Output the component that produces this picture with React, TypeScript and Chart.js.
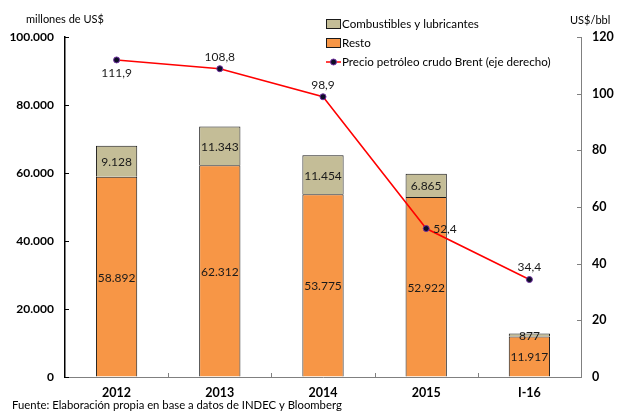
import React, { useEffect, useRef } from "react";
import { Chart, registerables } from "chart.js";

Chart.register(...registerables);

const categories = ["2012", "2013", "2014", "2015", "I-16"];
const resto = [58892, 62312, 53775, 52922, 11917];
const combustibles = [9128, 11343, 11454, 6865, 877];
const brent = [111.9, 108.8, 98.9, 52.4, 34.4];
const brentLabelPos = ["below", "above", "above", "right", "above"];
const leftTicks = [0, 20000, 40000, 60000, 80000, 100000];
const rightTicks = [0, 20, 40, 60, 80, 100, 120];

const seriesNames = {
  comb: "Combustibles y lubricantes",
  resto: "Resto",
  brent: "Precio petróleo crudo Brent (eje derecho)",
};
const leftTitle = "millones de US$";
const rightTitle = "US$/bbl";
const footer = "Fuente: Elaboración propia en base a datos de INDEC y Bloomberg";

const ORANGE = "#F79646";
const TAN = "#C4BD97";
const RED = "#FF0000";
const FONT = "Lato, 'Open Sans', sans-serif";

function fmtThousands(v: number): string {
  const s = Math.round(v).toString();
  return s.replace(/\B(?=(\d{3})+(?!\d))/g, ".");
}
function fmtDecimal(v: number): string {
  return v.toFixed(1).replace(".", ",");
}

const overlayPlugin = {
  id: "overlay",
  afterDatasetsDraw(chart: any) {
    const ctx = chart.ctx;
    const area = chart.chartArea;
    ctx.save();
    const ys = chart.scales.y;
    const y1 = chart.scales.y1;
    const xs = chart.scales.x;
    ctx.lineWidth = 1;
    ctx.strokeStyle = "#000";
    ys.ticks.forEach((t: any) => {
      const py = Math.round(ys.getPixelForValue(t.value)) + 0.5;
      ctx.beginPath();
      ctx.moveTo(area.left, py);
      ctx.lineTo(area.left + 4, py);
      ctx.stroke();
    });
    ctx.strokeStyle = "#808080";
    y1.ticks.forEach((t: any) => {
      const py = Math.round(y1.getPixelForValue(t.value)) + 0.5;
      ctx.beginPath();
      ctx.moveTo(area.right - 4, py);
      ctx.lineTo(area.right, py);
      ctx.stroke();
    });
    const n = categories.length;
    for (let i = 1; i < n; i++) {
      const px = Math.round((xs.getPixelForTick(i - 1) + xs.getPixelForTick(i)) / 2) + 0.5;
      ctx.beginPath();
      ctx.moveTo(px, area.bottom);
      ctx.lineTo(px, area.bottom - 4);
      ctx.stroke();
    }

    // bar labels
    ctx.fillStyle = "#1a1a1a";
    ctx.font = `12px ${FONT}`;
    ctx.textAlign = "center";
    ctx.textBaseline = "middle";
    [0, 1].forEach((di) => {
      const meta = chart.getDatasetMeta(di);
      const data = chart.data.datasets[di].data;
      meta.data.forEach((el: any, i: number) => {
        const cy = (el.y + el.base) / 2;
        ctx.fillText(fmtThousands(data[i]), el.x, cy + 1);
      });
    });
    // line labels
    const lmeta = chart.getDatasetMeta(2);
    lmeta.data.forEach((el: any, i: number) => {
      const pos = brentLabelPos[i];
      const txt = fmtDecimal(brent[i]);
      if (pos === "below") {
        ctx.textAlign = "center";
        ctx.fillText(txt, el.x, el.y + 13);
      } else if (pos === "right") {
        ctx.textAlign = "left";
        ctx.fillText(txt, el.x + 7, el.y + 1);
      } else {
        ctx.textAlign = "center";
        ctx.fillText(txt, el.x, el.y - 12);
      }
    });

    // axis titles
    ctx.font = `11px ${FONT}`;
    ctx.textAlign = "left";
    ctx.fillStyle = "#000";
    ctx.fillText(leftTitle, 26, 19);
    ctx.fillText(rightTitle, 570, 20);
    // footer
    ctx.font = `11.3px ${FONT}`;
    ctx.fillText(footer, 12, 405);

    // legend
    const lx = 326;
    const rows = [24, 43, 62];
    ctx.font = `11.6px ${FONT}`;
    ctx.textBaseline = "middle";
    ctx.fillStyle = TAN;
    ctx.fillRect(lx + 0.5, rows[0] - 4.5, 14, 9);
    ctx.strokeStyle = "#1a1a1a";
    ctx.strokeRect(lx + 0.5, rows[0] - 4.5, 14, 9);
    ctx.fillStyle = "#000";
    ctx.fillText(seriesNames.comb, lx + 16, rows[0]);
    ctx.fillStyle = ORANGE;
    ctx.fillRect(lx + 0.5, rows[1] - 4.5, 14, 9);
    ctx.strokeRect(lx + 0.5, rows[1] - 4.5, 14, 9);
    ctx.fillStyle = "#000";
    ctx.fillText(seriesNames.resto, lx + 16, rows[1]);
    ctx.strokeStyle = RED;
    ctx.lineWidth = 1.5;
    ctx.beginPath();
    ctx.moveTo(lx, rows[2]);
    ctx.lineTo(lx + 15, rows[2]);
    ctx.stroke();
    ctx.fillStyle = "#0d0d26";
    ctx.strokeStyle = "#7030A0";
    ctx.lineWidth = 1;
    ctx.beginPath();
    ctx.arc(lx + 7.5, rows[2], 3, 0, Math.PI * 2);
    ctx.fill();
    ctx.stroke();
    ctx.fillStyle = "#000";
    ctx.fillText(seriesNames.brent, lx + 16, rows[2]);

    ctx.restore();
  },
};

export default function App() {
  const ref = useRef<HTMLCanvasElement | null>(null);
  useEffect(() => {
    document.body.style.margin = "0";
    if (!ref.current) return;
    const chart = new Chart(ref.current, {
      type: "bar",
      data: {
        labels: categories,
        datasets: [
          {
            type: "bar",
            label: seriesNames.resto,
            data: resto,
            backgroundColor: ORANGE,
            borderColor: "#1a1a1a",
            borderWidth: 1,
            yAxisID: "y",
            stack: "s",
            order: 1,
            categoryPercentage: 1,
            barPercentage: 0.4,
          },
          {
            type: "bar",
            label: seriesNames.comb,
            data: combustibles,
            backgroundColor: TAN,
            borderColor: "#1a1a1a",
            borderWidth: 1,
            yAxisID: "y",
            stack: "s",
            order: 1,
            categoryPercentage: 1,
            barPercentage: 0.4,
          },
          {
            type: "line",
            label: seriesNames.brent,
            data: brent,
            borderColor: RED,
            borderWidth: 1.5,
            pointBackgroundColor: "#0d0d26",
            pointBorderColor: "#7030A0",
            pointBorderWidth: 1,
            pointRadius: 3,
            yAxisID: "y1",
            order: 0,
            tension: 0,
          },
        ] as any,
      },
      options: {
        responsive: false,
        animation: false,
        layout: { padding: { top: 37, left: 0, right: 0, bottom: 0 } },
        plugins: {
          legend: { display: false },
          tooltip: { enabled: false },
        },
        scales: {
          x: {
            stacked: true,
            grid: { display: false, drawTicks: false },
            border: { display: true, color: "#808080", width: 1 },
            ticks: {
              padding: 8,
              color: "#000",
              font: { family: FONT, size: 12.5, weight: "bold" },
            },
            afterFit: (s: any) => {
              s.height = 35;
            },
          },
          y: {
            stacked: true,
            position: "left",
            min: 0,
            max: 100000,
            afterBuildTicks: (s: any) => {
              s.ticks = leftTicks.map((v) => ({ value: v }));
            },
            grid: { drawOnChartArea: false, drawTicks: false },
            border: { display: true, color: "#000", width: 1.5 },
            ticks: {
              padding: 11,
              color: "#000",
              font: { family: FONT, size: 12, weight: "bold" },
              callback: (v: any) => fmtThousands(Number(v)),
            },
            afterFit: (s: any) => {
              s.width = 65;
            },
          },
          y1: {
            position: "right",
            min: 0,
            max: 120,
            afterBuildTicks: (s: any) => {
              s.ticks = rightTicks.map((v) => ({ value: v }));
            },
            grid: { drawOnChartArea: false, drawTicks: false },
            border: { display: true, color: "#808080", width: 1 },
            ticks: {
              padding: 11,
              color: "#000",
              font: { family: FONT, size: 12.5, weight: "bold" },
            },
            afterFit: (s: any) => {
              s.width = 46;
            },
          },
        },
      } as any,
      plugins: [overlayPlugin],
    });
    return () => chart.destroy();
  }, []);
  return <canvas ref={ref} width={627} height={412} style={{ display: "block" }} />;
}
